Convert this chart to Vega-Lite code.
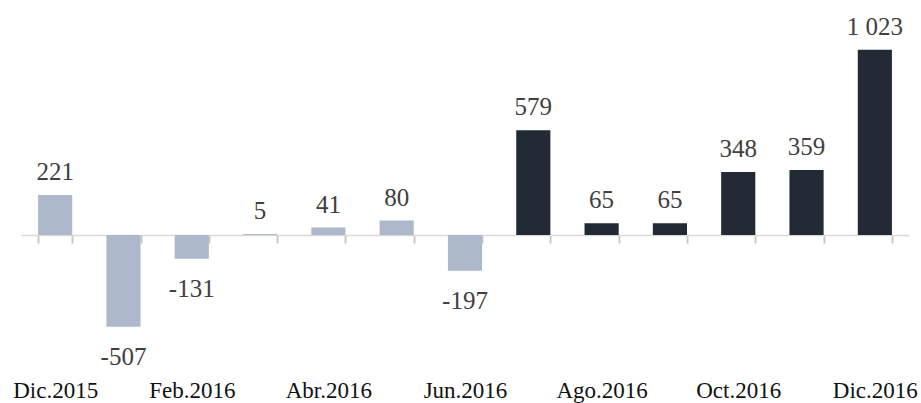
{
  "$schema": "https://vega.github.io/schema/vega-lite/v6.json",
  "width": 888,
  "height": 350,
  "autosize": {"type": "none"},
  "padding": {"left": 21, "top": 10, "right": 12, "bottom": 43},
  "background": "#ffffff",
  "config": {
    "view": {"stroke": null},
    "locale": {"number": {"decimal": ",", "thousands": " ", "grouping": [3], "currency": ["", ""], "minus": "-"}}
  },
  "data": {
    "values": [
      {"mes": "Dic.2015", "valor": 221, "periodo": "A"},
      {"mes": "Ene.2016", "valor": -507, "periodo": "A"},
      {"mes": "Feb.2016", "valor": -131, "periodo": "A"},
      {"mes": "Mar.2016", "valor": 5, "periodo": "A"},
      {"mes": "Abr.2016", "valor": 41, "periodo": "A"},
      {"mes": "May.2016", "valor": 80, "periodo": "A"},
      {"mes": "Jun.2016", "valor": -197, "periodo": "A"},
      {"mes": "Jul.2016", "valor": 579, "periodo": "B"},
      {"mes": "Ago.2016", "valor": 65, "periodo": "B"},
      {"mes": "Set.2016", "valor": 65, "periodo": "B"},
      {"mes": "Oct.2016", "valor": 348, "periodo": "B"},
      {"mes": "Nov.2016", "valor": 359, "periodo": "B"},
      {"mes": "Dic.2016", "valor": 1023, "periodo": "B"}
    ]
  },
  "encoding": {
    "x": {
      "field": "mes",
      "type": "ordinal",
      "sort": null,
      "scale": {"paddingInner": 0.5, "paddingOuter": 0.25},
      "axis": {
        "orient": "bottom",
        "offset": -125,
        "title": null,
        "domain": true,
        "domainColor": "#d9d9d9",
        "domainWidth": 1.5,
        "ticks": true,
        "tickColor": "#c8c8c8",
        "tickWidth": 2,
        "tickSize": 8,
        "tickBand": "extent",
        "labelAngle": 0,
        "labelOverlap": false,
        "labelBaseline": "alphabetic",
        "labelPadding": 154,
        "labelFont": "Liberation Serif",
        "labelFontSize": 23,
        "labelColor": "#111111",
        "labelExpr": "indexof(['Dic','Feb','Abr','Jun','Ago','Oct'], substring(datum.label, 0, 3)) >= 0 ? datum.label : ''"
      }
    }
  },
  "layer": [
    {
      "mark": {"type": "bar"},
      "encoding": {
        "y": {
          "field": "valor",
          "type": "quantitative",
          "scale": {"domain": [-690.6, 1243.1], "nice": false},
          "axis": null
        },
        "color": {
          "field": "periodo",
          "type": "nominal",
          "scale": {"domain": ["A", "B"], "range": ["#adb9ca", "#222a35"]},
          "legend": null
        }
      }
    },
    {
      "transform": [{"filter": "datum.valor >= 0"}],
      "mark": {"type": "text", "baseline": "alphabetic", "dy": -15, "font": "Liberation Serif", "fontSize": 25, "color": "#404040"},
      "encoding": {
        "y": {"field": "valor", "type": "quantitative"},
        "text": {"field": "valor", "type": "quantitative", "format": ",d"}
      }
    },
    {
      "transform": [{"filter": "datum.valor < 0"}],
      "mark": {"type": "text", "baseline": "alphabetic", "dy": 38, "font": "Liberation Serif", "fontSize": 25, "color": "#404040"},
      "encoding": {
        "y": {"field": "valor", "type": "quantitative"},
        "text": {"field": "valor", "type": "quantitative", "format": ",d"}
      }
    }
  ]
}
